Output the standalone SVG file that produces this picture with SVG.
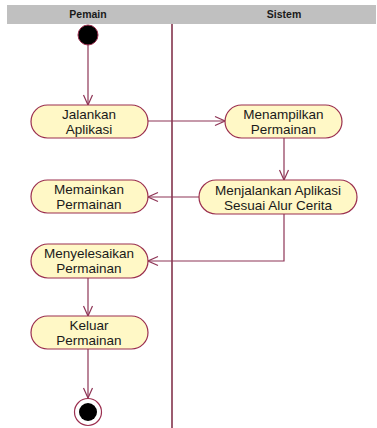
<svg xmlns="http://www.w3.org/2000/svg" width="377" height="428" viewBox="0 0 377 428">
  <style>
    .hdr { fill: #c0c0c0; }
    .hdr-text { font-family: "Liberation Sans", Arial, sans-serif; font-size: 10.5px; font-weight: bold; fill: #1a1a1a; text-anchor: middle; }
    .lane { stroke: #9c5c70; stroke-width: 2; }
    .act { fill: #fff8c6; stroke: #9b2f4f; stroke-width: 1.2; }
    .label { font-family: "Liberation Sans", Arial, sans-serif; font-size: 13.5px; fill: #1a1a1a; text-anchor: middle; }
    .flow { fill: none; stroke: #8e3556; stroke-width: 1.2; }
  </style>
  <defs>
    <marker id="open-arrow" viewBox="0 0 12 12" refX="11" refY="6" markerWidth="12" markerHeight="12" markerUnits="userSpaceOnUse" orient="auto">
      <path d="M1,1.5 L11,6 L1,10.5" fill="none" stroke="#8e3556" stroke-width="1.2"/>
    </marker>
  </defs>

  <!-- swimlane header -->
  <rect class="hdr" x="7" y="5" width="369" height="19"/>
  <text class="hdr-text" x="88" y="18">Pemain</text>
  <text class="hdr-text" x="284" y="18">Sistem</text>

  <!-- lane divider -->
  <line class="lane" x1="172" y1="24" x2="172" y2="428"/>

  <!-- connectors -->
  <g id="connectors">
    <path class="flow" d="M88,45 L88,105" marker-end="url(#open-arrow)"/>
    <path class="flow" d="M148,121 L225,121" marker-end="url(#open-arrow)"/>
    <path class="flow" d="M284,138 L284,180" marker-end="url(#open-arrow)"/>
    <path class="flow" d="M199,197 L148,197" marker-end="url(#open-arrow)"/>
    <path class="flow" d="M284,214 L284,261 L148,261" marker-end="url(#open-arrow)"/>
    <path class="flow" d="M88,278 L88,316" marker-end="url(#open-arrow)"/>
    <path class="flow" d="M88,349 L88,398" marker-end="url(#open-arrow)"/>
  </g>

  <!-- start -->
  <g id="start">
    <circle cx="88" cy="35" r="10" fill="#000" stroke="#9b2f4f" stroke-width="1"/>
  </g>

  <g id="jalankan-aplikasi">
    <rect class="act" x="31" y="105" width="117" height="33" rx="16.5"/>
    <text class="label" x="89" y="119">Jalankan</text>
    <text class="label" x="89" y="134">Aplikasi</text>
  </g>

  <g id="menampilkan-permainan">
    <rect class="act" x="225" y="105" width="117" height="33" rx="16.5"/>
    <text class="label" x="283.5" y="119">Menampilkan</text>
    <text class="label" x="283.5" y="134">Permainan</text>
  </g>

  <g id="memainkan-permainan">
    <rect class="act" x="31" y="180" width="117" height="33" rx="16.5"/>
    <text class="label" x="89" y="194">Memainkan</text>
    <text class="label" x="89" y="209">Permainan</text>
  </g>

  <g id="menjalankan-aplikasi">
    <rect class="act" x="199" y="180" width="158" height="34" rx="17"/>
    <text class="label" x="278" y="195">Menjalankan Aplikasi</text>
    <text class="label" x="278" y="210">Sesuai Alur Cerita</text>
  </g>

  <g id="menyelesaikan-permainan">
    <rect class="act" x="31" y="244" width="117" height="34" rx="17"/>
    <text class="label" x="89" y="258">Menyelesaikan</text>
    <text class="label" x="89" y="273">Permainan</text>
  </g>

  <g id="keluar-permainan">
    <rect class="act" x="31" y="316" width="117" height="33" rx="16.5"/>
    <text class="label" x="89" y="330">Keluar</text>
    <text class="label" x="89" y="345">Permainan</text>
  </g>

  <!-- end -->
  <g id="end">
    <circle cx="88" cy="412" r="13.5" fill="#fff" stroke="#9b2f4f" stroke-width="1.2"/>
    <circle cx="88" cy="412" r="9" fill="#000"/>
  </g>
</svg>
